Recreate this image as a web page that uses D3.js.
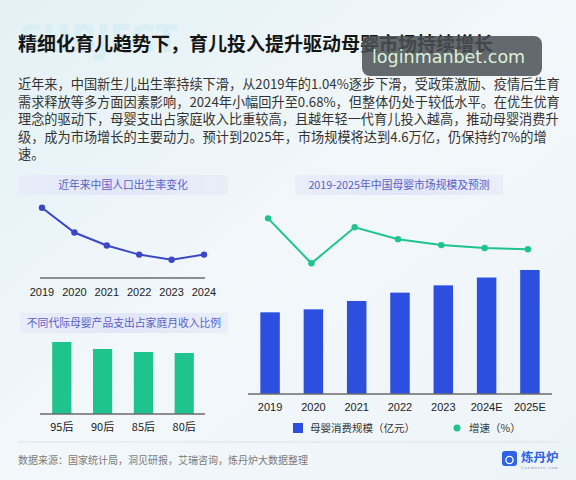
<!DOCTYPE html>
<html>
<head>
<meta charset="utf-8">
<script src="https://cdn.jsdelivr.net/npm/d3@7"></script>
<style>
    html, body { margin: 0; padding: 0; }
    body { width: 576px; height: 480px; overflow: hidden; }
</style>
</head>
<body>
<div id="chart"></div>
<script>
// ---- data ----
const birthYears = ["2019", "2020", "2021", "2022", "2023", "2024"];
const birthRate = [1.04, 0.85, 0.75, 0.68, 0.64, 0.68]; // %

const generations = ["95后", "90后", "85后", "80后"];
const spendShare = [28.8, 26.0, 24.8, 24.4]; // % of monthly income (estimated)

const marketYears = ["2019", "2020", "2021", "2022", "2023", "2024E", "2025E"];
const marketSize = [30300, 31400, 34500, 37600, 40300, 43200, 46000]; // 亿元
const marketGrowth = [14.3, 3.7, 12.2, 9.4, 8.0, 7.3, 7.0]; // %

const paragraph = [
    "近年来，中国新生儿出生率持续下滑，从2019年的1.04%逐步下滑，受政策激励、疫情后生育",
    "需求释放等多方面因素影响，2024年小幅回升至0.68%，但整体仍处于较低水平。在优生优育",
    "理念的驱动下，母婴支出占家庭收入比重较高，且越年轻一代育儿投入越高，推动母婴消费升",
    "级，成为市场增长的主要动力。预计到2025年，市场规模将达到4.6万亿，仍保持约7%的增",
    "速。"
];

const cjk = "'Noto Sans CJK SC', 'Noto Sans', sans-serif";
const num = "'Liberation Sans', 'Noto Sans CJK SC', sans-serif";
const blueLine = "#3b47c6";
const blueBar = "#2d4fe0";
const green = "#1fc48c";
const boxText = "#5a62c4";

const svg = d3
    .select("#chart")
    .append("svg")
    .attr("width", 576)
    .attr("height", 480)
    .attr("viewBox", [0, 0, 576, 480]);

// background
const defs = svg.append("defs");
const bg = defs.append("linearGradient")
    .attr("id", "bg").attr("x1", 0).attr("y1", 0).attr("x2", 1).attr("y2", 1);
bg.append("stop").attr("offset", 0).attr("stop-color", "#e3f1f5");
bg.append("stop").attr("offset", 0.5).attr("stop-color", "#f2f7fa");
bg.append("stop").attr("offset", 1).attr("stop-color", "#edf4f8");
svg.append("rect").attr("width", 576).attr("height", 480).attr("fill", "url(#bg)");

const boxGrad = defs.append("linearGradient").attr("id", "box");
boxGrad.append("stop").attr("offset", 0).attr("stop-color", "#e6eaf9").attr("stop-opacity", 0.7);
boxGrad.append("stop").attr("offset", 0.5).attr("stop-color", "#e1e6f8");
boxGrad.append("stop").attr("offset", 1).attr("stop-color", "#e6eaf9").attr("stop-opacity", 0.7);

// faint decorative word behind the title
svg.append("text")
    .attr("x", 20).attr("y", 52)
    .attr("font-family", "'Open Sans', sans-serif")
    .attr("font-weight", 800)
    .attr("font-size", 38)
    .attr("fill", "#daeff3")
    .text("SUBJECT");

// title
svg.append("text")
    .attr("x", 18).attr("y", 51)
    .attr("font-family", cjk)
    .attr("font-weight", 700)
    .attr("font-size", 19)
    .attr("fill", "#151515")
    .text("精细化育儿趋势下，育儿投入提升驱动母婴市场持续增长");

// intro paragraph
svg.append("g")
    .attr("font-family", cjk)
    .attr("font-size", 13.2)
    .attr("fill", "#333")
    .selectAll("text")
    .data(paragraph)
    .join("text")
    .attr("x", 18)
    .attr("y", (d, i) => 89 + i * 17.6)
    .text((d) => d);

// section caption boxes
function caption(x, w, y, label) {
    svg.append("rect")
        .attr("x", x).attr("y", y).attr("width", w).attr("height", 20)
        .attr("fill", "url(#box)");
    svg.append("text")
        .attr("x", x + w / 2).attr("y", y + 14)
        .attr("text-anchor", "middle")
        .attr("font-family", cjk)
        .attr("font-size", 10.8)
        .attr("fill", boxText)
        .text(label);
}
caption(18, 210, 175, "近年来中国人口出生率变化");
caption(20, 208, 313, "不同代际母婴产品支出占家庭月收入比例");
caption(295, 208, 175, "2019-2025年中国母婴市场规模及预测");

function baseline(x1, x2, y, color = "#6b6b6b", w = 1.4) {
    svg.append("line")
        .attr("x1", x1).attr("x2", x2).attr("y1", y).attr("y2", y)
        .attr("stroke", color).attr("stroke-width", w);
}

// ---- birth rate line ----
const xBirth = d3.scalePoint().domain(birthYears).range([42, 204]);
const yBirth = d3.scaleLinear().domain([0.5, 1.1]).range([278, 200]);

baseline(40, 205, 278);
svg.append("path")
    .datum(birthRate)
    .attr("fill", "none")
    .attr("stroke", blueLine)
    .attr("stroke-width", 2)
    .attr("d", d3.line().x((d, i) => xBirth(birthYears[i])).y((d) => yBirth(d)));
svg.append("g")
    .selectAll("circle")
    .data(birthRate)
    .join("circle")
    .attr("cx", (d, i) => xBirth(birthYears[i]))
    .attr("cy", (d) => yBirth(d))
    .attr("r", 3.2)
    .attr("fill", blueLine);
svg.append("g")
    .attr("font-family", num)
    .attr("font-size", 11)
    .attr("fill", "#222")
    .attr("text-anchor", "middle")
    .selectAll("text")
    .data(birthYears)
    .join("text")
    .attr("x", (d) => xBirth(d))
    .attr("y", 296)
    .text((d) => d);

// ---- generation spending bars ----
const xGen = d3.scaleBand().domain(generations).range([42, 204]).paddingInner(0.53).paddingOuter(0.25);
const yGen = d3.scaleLinear().domain([0, 30]).range([414, 339]);

svg.append("g")
    .selectAll("rect")
    .data(spendShare)
    .join("rect")
    .attr("x", (d, i) => xGen(generations[i]))
    .attr("width", xGen.bandwidth())
    .attr("y", (d) => yGen(d))
    .attr("height", (d) => yGen(0) - yGen(d))
    .attr("fill", green);
baseline(40, 205, 414);
svg.append("g")
    .attr("font-family", cjk)
    .attr("font-size", 11)
    .attr("fill", "#222")
    .attr("text-anchor", "middle")
    .selectAll("text")
    .data(generations)
    .join("text")
    .attr("x", (d) => xGen(d) + xGen.bandwidth() / 2)
    .attr("y", 431)
    .text((d) => d);

// ---- market size bars + growth line ----
const xMkt = d3.scaleBand().domain(marketYears).range([248, 552]).paddingInner(0.55).paddingOuter(0.285);
const yMkt = d3.scaleLinear().domain([0, 50000]).range([394, 259.2]);
const yGrow = d3.scaleLinear().domain([0, 20]).range([279, 194.2]);
const cx = (i) => xMkt(marketYears[i]) + xMkt.bandwidth() / 2;

svg.append("g")
    .selectAll("rect")
    .data(marketSize)
    .join("rect")
    .attr("x", (d, i) => xMkt(marketYears[i]))
    .attr("width", xMkt.bandwidth())
    .attr("y", (d) => yMkt(d))
    .attr("height", (d) => yMkt(0) - yMkt(d))
    .attr("fill", blueBar);
baseline(248, 552, 394);

svg.append("path")
    .datum(marketGrowth)
    .attr("fill", "none")
    .attr("stroke", green)
    .attr("stroke-width", 2)
    .attr("d", d3.line().x((d, i) => cx(i) - 2).y((d) => yGrow(d)));
svg.append("g")
    .selectAll("circle")
    .data(marketGrowth)
    .join("circle")
    .attr("cx", (d, i) => cx(i) - 2)
    .attr("cy", (d) => yGrow(d))
    .attr("r", 3.2)
    .attr("fill", green);

svg.append("g")
    .attr("font-family", num)
    .attr("font-size", 11)
    .attr("fill", "#222")
    .attr("text-anchor", "middle")
    .selectAll("text")
    .data(marketYears)
    .join("text")
    .attr("x", (d, i) => cx(i))
    .attr("y", 411)
    .text((d) => d);

// legend
svg.append("rect").attr("x", 293).attr("y", 423).attr("width", 10).attr("height", 10).attr("fill", blueBar);
svg.append("text")
    .attr("x", 310).attr("y", 432)
    .attr("font-family", cjk).attr("font-size", 10.5).attr("fill", "#333")
    .text("母婴消费规模（亿元）");
svg.append("circle").attr("cx", 457).attr("cy", 428).attr("r", 3.5).attr("fill", green);
svg.append("text")
    .attr("x", 469).attr("y", 432)
    .attr("font-family", cjk).attr("font-size", 10.5).attr("fill", "#333")
    .text("增速（%）");

// footer
baseline(18, 558, 442, "#dbe3e8", 1);
svg.append("text")
    .attr("x", 18).attr("y", 464)
    .attr("font-family", cjk).attr("font-size", 10).attr("fill", "#7a7a7a")
    .text("数据来源：国家统计局，洞见研报，艾瑞咨询，炼丹炉大数据整理");

const logo = svg.append("g").attr("transform", "translate(502,451)");
logo.append("rect").attr("width", 15).attr("height", 15).attr("rx", 3).attr("fill", "#2f63e4");
logo.append("circle").attr("cx", 7.5).attr("cy", 9).attr("r", 3.6).attr("fill", "none").attr("stroke", "#fff").attr("stroke-width", 1.3);
logo.append("text")
    .attr("x", 19).attr("y", 10.5)
    .attr("font-family", cjk).attr("font-weight", 700).attr("font-size", 12.5).attr("fill", "#2f63e4")
    .text("炼丹炉");
logo.append("text")
    .attr("x", 19).attr("y", 17.5)
    .attr("font-family", num).attr("font-size", 4).attr("fill", "#7d8fb8")
    .attr("letter-spacing", 1)
    .text("liandanlu.com");

// watermark overlay
svg.append("rect")
    .attr("x", 362).attr("y", 36).attr("width", 180).attr("height", 40).attr("rx", 8)
    .attr("fill", "#4a5055").attr("fill-opacity", 0.85);
svg.append("text")
    .attr("x", 372).attr("y", 63)
    .attr("font-family", "'DejaVu Sans', sans-serif")
    .attr("font-size", 17.5)
    .attr("fill", "#dcf2d8")
    .text("loginmanbet.com");
</script>
</body>
</html>
